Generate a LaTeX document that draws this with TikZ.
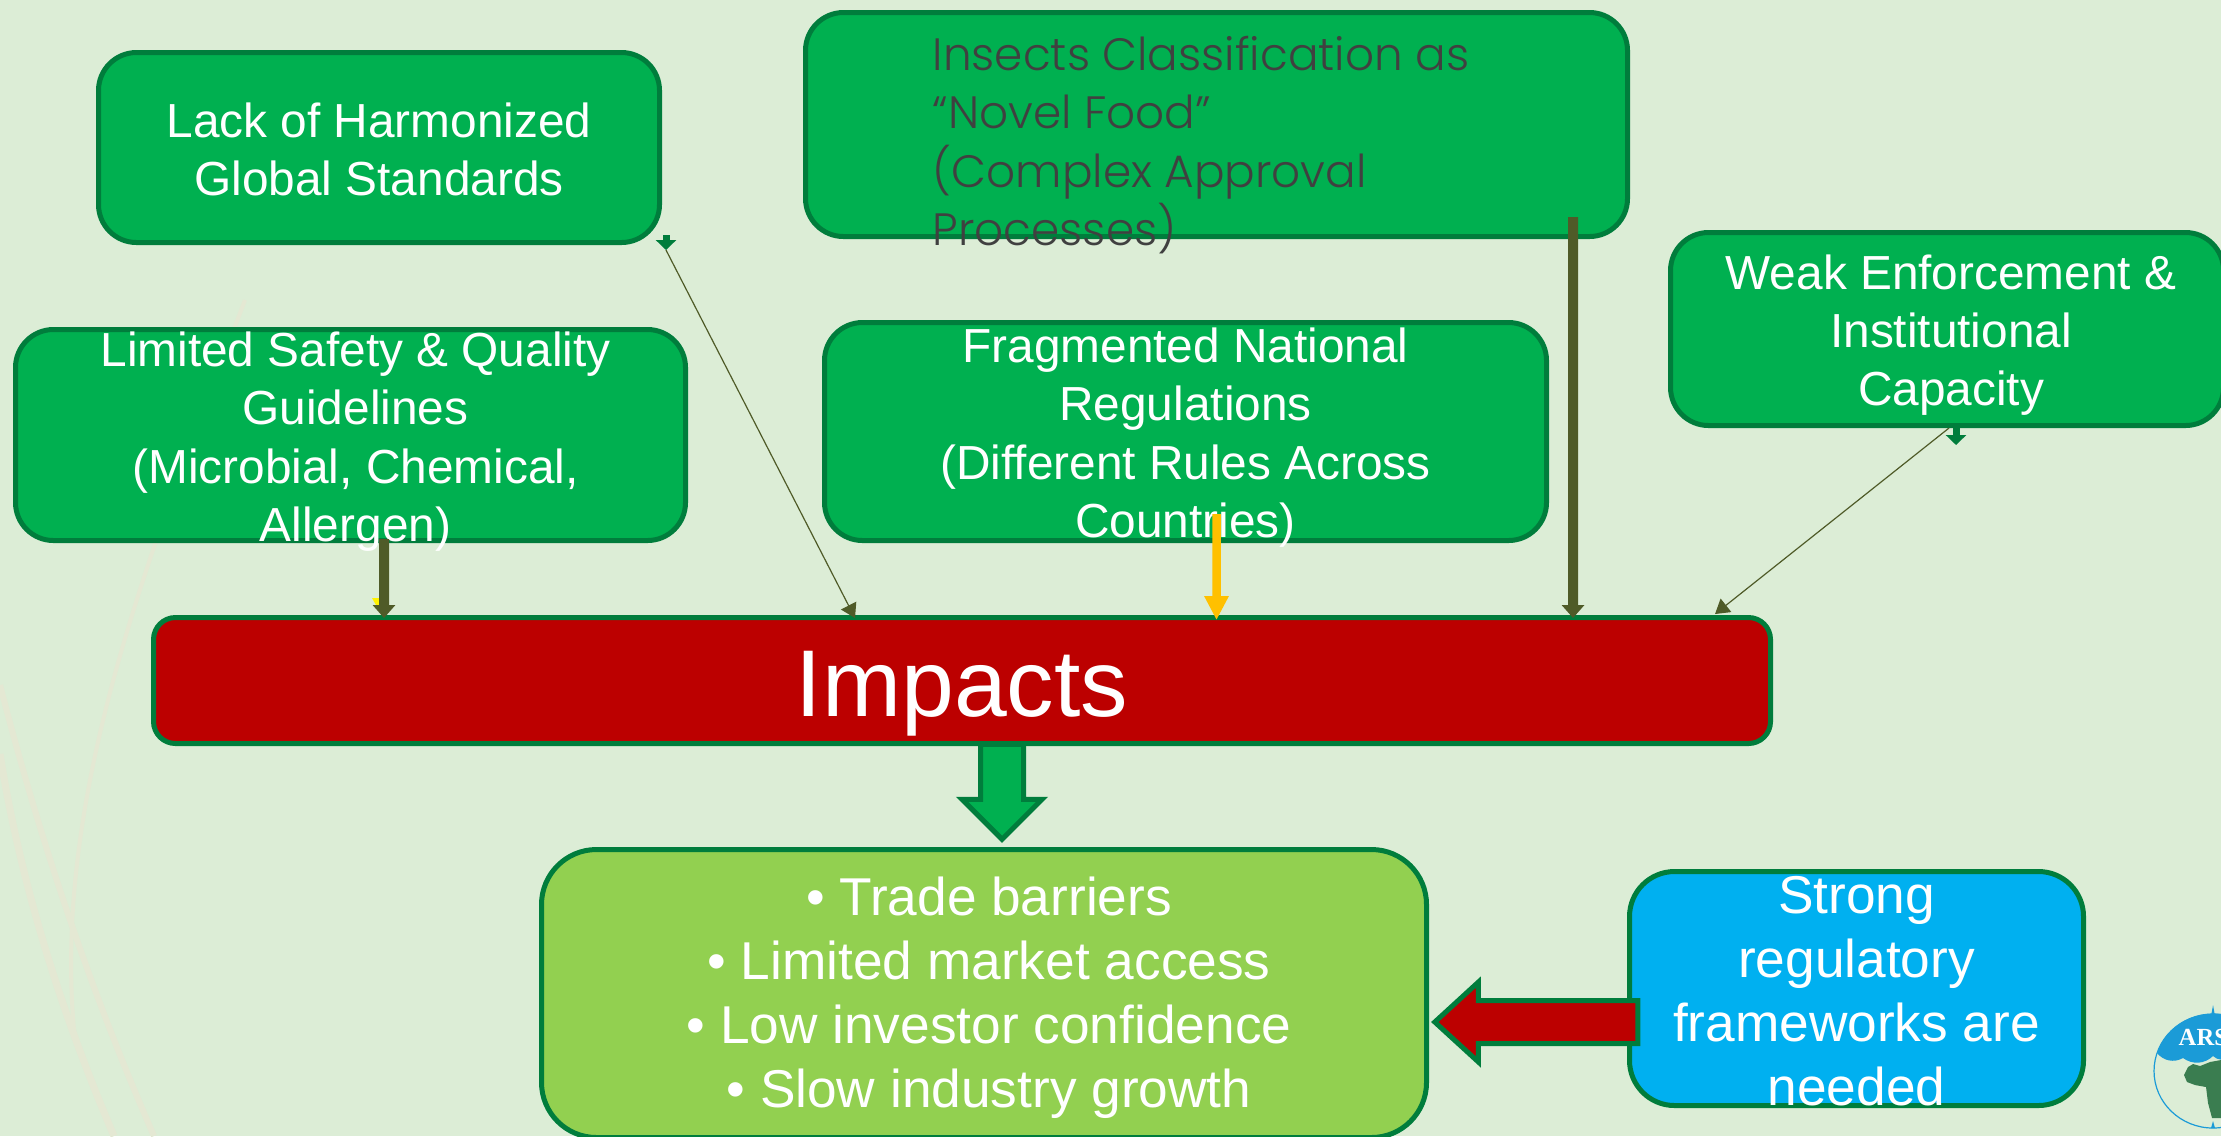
\documentclass[tikz,border=0pt]{standalone}
\usepackage{fontspec}
\setmainfont{Liberation Sans}
\newfontfamily\gothicfont{Poppins Light}
\newfontfamily\logofont{Liberation Serif}
\usepackage{tikz}
\usetikzlibrary{arrows.meta,positioning,shapes.arrows}

\definecolor{slidebg}{HTML}{DCEDD6}
\definecolor{swirl}{HTML}{E4E8D3}
\definecolor{boxgreen}{HTML}{00B050}
\definecolor{edgegreen}{HTML}{007D3C}
\definecolor{darkred}{HTML}{BC0000}
\definecolor{limegreen}{HTML}{92D050}
\definecolor{skyblue}{HTML}{00B0F0}
\definecolor{olive}{HTML}{4F5B28}
\definecolor{amber}{HTML}{FFC000}
\definecolor{logoblue}{HTML}{1B9BD7}
\definecolor{logogreen}{HTML}{3A7D50}

\tikzset{
    cause/.style={draw=edgegreen, line width=0.05cm, fill=boxgreen, rounded corners=0.38cm},
    outcome/.style={cause, fill=limegreen, rounded corners=0.55cm},
    remedy/.style={cause, fill=skyblue, rounded corners=0.45cm},
    caption/.style={text=white, align=center, inner sep=0pt, font=\fontsize{13.6}{16.6}\selectfont},
    biglines/.style={caption, font=\fontsize{15.15}{18.2}\selectfont},
    block/.style={single arrow, draw=edgegreen, line width=0.05cm, inner sep=0.19cm, single arrow head extend=0.185cm, anchor=center},
    heavy/.style={color=olive, line width=0.1cm, -{Triangle[length=0.13cm,width=0.22cm]}},
    slim/.style={color=olive, line width=0.012cm, -{Triangle[length=0.14cm,width=0.17cm]}},
    stub/.style={color=edgegreen, line width=0.07cm, -{Triangle[length=0.1cm,width=0.2cm]}}
}

\begin{document}
\begin{tikzpicture}
    \useasboundingbox (0,0) rectangle (22.21,-11.36);
    \clip (0,0) rectangle (22.21,-11.36);
    \fill[slidebg] (0,0) rectangle (22.21,-11.36);
    % faint swirls on the left
    \draw[swirl, line width=0.06cm] (0,-6.85) .. controls (0.4,-8.4) and (0.9,-9.9) .. (1.54,-11.36);
    \draw[swirl, line width=0.07cm] (0,-7.54) .. controls (0.2,-8.8) and (0.6,-10.1) .. (1.14,-11.36);
    \draw[swirl, line width=0.04cm] (2.45,-3) .. controls (1.5,-5.5) and (0.5,-8) .. (0.75,-10.4);

    % boxes
    \node[cause, minimum width=5.61cm, minimum height=1.9cm] (lack) at (3.79,-1.475) {};
    \node[cause, minimum width=6.7cm, minimum height=2.11cm] (limited) at (3.505,-4.35) {};
    \node[cause, minimum width=8.22cm, minimum height=2.24cm] (insects) at (12.165,-1.245) {};
    \node[cause, minimum width=7.22cm, minimum height=2.18cm] (fragmented) at (11.855,-4.315) {};
    \node[cause, minimum width=5.53cm, minimum height=1.93cm] (weak) at (19.47,-3.29) {};
    \node[cause, fill=darkred, rounded corners=0.22cm, minimum width=16.17cm, minimum height=1.26cm] (impacts) at (9.62,-6.805) {};
    \node[outcome, minimum width=8.85cm, minimum height=2.88cm] (effects) at (9.84,-9.935) {};
    \node[remedy, minimum width=4.54cm, minimum height=2.34cm] (needed) at (18.565,-9.885) {};

    % block arrows
    \node[block, fill=boxgreen, shape border rotate=270, single arrow tip angle=90, minimum height=0.95cm, minimum width=0.75cm] (down) at (10.02,-7.81) {};
    \node[block, fill=darkred, shape border rotate=180, single arrow tip angle=85, minimum height=2.03cm, minimum width=0.75cm] (left) at (15.48,-10.22) {};

    % texts
    \node[caption] (lacktext) at ([yshift=-0.02cm]lack) {Lack of Harmonized\\Global Standards};
    \node[caption] (limitedtext) at ([xshift=0.05cm,yshift=-0.065cm]limited) {Limited Safety \& Quality\\Guidelines\\(Microbial, Chemical,\\Allergen)};
    \node[anchor=west, text=black!75, align=left, inner sep=0pt, font=\gothicfont\fontsize{12.9}{16.6}\selectfont] (insectstext) at (9.32,-1.45) {Insects Classification as\\“Novel Food”\\(Complex Approval\\Processes)};
    \node[caption] (fragmentedtext) at ([yshift=-0.06cm]fragmented) {Fragmented National\\Regulations\\(Different Rules Across\\Countries)};
    \node[caption] (weaktext) at ([xshift=0.04cm,yshift=-0.06cm]weak) {Weak Enforcement \&\\Institutional\\Capacity};
    \node[caption, font=\fontsize{27}{30}\selectfont] (impactstext) at ([yshift=-0.13cm]impacts) {Impacts};
    \node[biglines] (effectstext) at ([xshift=0.05cm,yshift=-0.04cm]effects) {• Trade barriers\\• Limited market access\\• Low investor confidence\\• Slow industry growth};
    \node[biglines] (neededtext) at ([yshift=-0.03cm]needed) {Strong\\regulatory\\frameworks are\\needed};

    % connectors
    \fill[yellow] (3.72,-5.98) -- (3.8,-5.98) -- (3.8,-6.12) -- cycle;
    \path
        ([xshift=0.335cm,yshift=0.04cm]limited.south) edge[heavy] ([xshift=-5.78cm,yshift=-0.03cm]impacts.north)
        ([xshift=3.565cm,yshift=0.22cm]insects.south) edge[heavy] ([xshift=6.11cm,yshift=-0.03cm]impacts.north)
        ([xshift=0.31cm,yshift=0.29cm]fragmented.south) edge[color=amber, line width=0.085cm, -{Triangle[length=0.24cm,width=0.23cm]}] ([xshift=2.545cm,yshift=-0.05cm]impacts.north)
        ([xshift=2.87cm,yshift=0.1cm]lack.south) edge[stub] ([xshift=2.87cm,yshift=-0.05cm]lack.south)
        ([xshift=0.09cm]weak.south) edge[stub] ([xshift=0.09cm,yshift=-0.17cm]weak.south)
        ([xshift=2.87cm,yshift=-0.05cm]lack.south) edge[slim] ([xshift=-1.07cm,yshift=-0.03cm]impacts.north)
        ([xshift=0.02cm]weak.south) edge[slim] ([xshift=7.53cm,yshift=0.01cm]impacts.north);

    % logo
    \draw[logoblue, line width=0.012cm] (22.13,-10.71) ellipse[x radius=0.59cm, y radius=0.57cm];
    \fill[logoblue] (21.57,-10.53) arc[start angle=162, end angle=90, x radius=0.59cm, y radius=0.57cm]
        -- (22.3,-10.14) -- (22.3,-10.57) to[bend left=40] (22.13,-10.56) to[bend left=40] (21.83,-10.58) to[bend left=40] cycle;
    \fill[logoblue] (22.11,-10.16) -- (22.13,-10.05) -- (22.15,-10.16) -- cycle;
    \fill[logoblue] (22.11,-11.28) -- (22.13,-11.21) -- (22.15,-11.28) -- cycle;
    \fill[logogreen] (21.84,-10.75) -- (21.88,-10.67) -- (21.93,-10.64) -- (22,-10.66) -- (22.1,-10.62) -- (22.21,-10.6) -- (22.3,-10.7) -- (22.3,-11.18) -- (22.12,-11.18) -- (22.08,-11.03) -- (22.06,-10.87) -- (21.95,-10.85) -- (21.87,-10.82) -- cycle;
    \node[inner sep=0pt, text=white, anchor=base west, font=\logofont\bfseries\fontsize{7}{8}\selectfont] (logo) at (21.78,-10.45) {ARS};
\end{tikzpicture}
\end{document}
